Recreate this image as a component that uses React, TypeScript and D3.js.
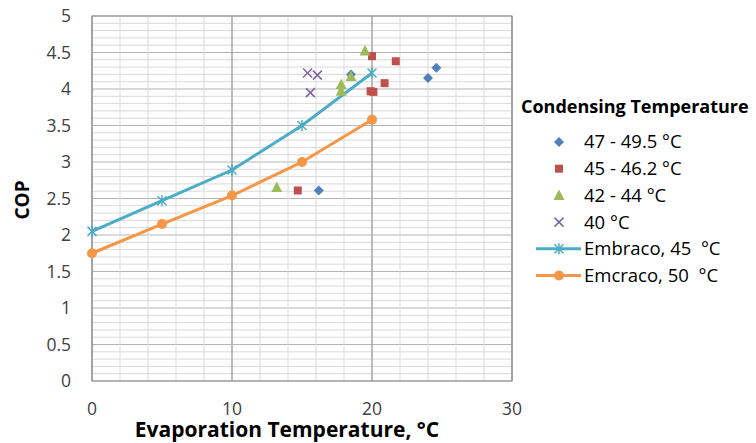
import React from "react";
import * as d3 from "d3";

const W = 756, H = 443;
const xTicks = [0, 10, 20, 30];
const yTicks = [0, 0.5, 1, 1.5, 2, 2.5, 3, 3.5, 4, 4.5, 5];

const s47x = [24.6, 24.0, 16.2, 18.5];
const s47y = [4.29, 4.15, 2.61, 4.2];
const s45x = [20.0, 21.7, 20.9, 19.9, 20.1, 14.7];
const s45y = [4.45, 4.38, 4.08, 3.97, 3.96, 2.61];
const s42x = [19.5, 18.5, 17.8, 17.8, 13.2];
const s42y = [4.52, 4.17, 4.06, 3.97, 2.65];
const s40x = [15.4, 16.1, 15.6];
const s40y = [4.22, 4.19, 3.95];
const lineX = [0, 5, 10, 15, 20];
const embracoY = [2.05, 2.47, 2.89, 3.5, 4.22];
const emcracoY = [1.75, 2.15, 2.54, 3.0, 3.58];

const legendLabels = ["47 - 49.5 °C", "45 - 46.2 °C", "42 - 44 °C", "40 °C", "Embraco, 45\u00a0 °C", "Emcraco, 50\u00a0 °C"];
const C = { blue: "#4F81BD", red: "#C0504D", green: "#9BBB59", purple: "#8064A2", teal: "#4BACC6", orange: "#F79646" };
const FONT = "'Open Sans', Lato, sans-serif";

const x = d3.scaleLinear().domain([0, 30]).range([92, 512]);
const y = d3.scaleLinear().domain([0, 5]).range([381, 16]);

function Marker({ type, cx, cy, color }: { type: string; cx: number; cy: number; color: string }) {
  if (type === "diamond") {
    const r = 5;
    return <path d={`M${cx},${cy - r}L${cx + r},${cy}L${cx},${cy + r}L${cx - r},${cy}Z`} fill={color} />;
  }
  if (type === "square") return <rect x={cx - 4} y={cy - 4} width={8} height={8} fill={color} />;
  if (type === "triangle") return <path d={`M${cx},${cy - 6}L${cx + 5.5},${cy + 4.5}L${cx - 5.5},${cy + 4.5}Z`} fill={color} />;
  if (type === "x") {
    const r = 4.5;
    return <path d={`M${cx - r},${cy - r}L${cx + r},${cy + r}M${cx - r},${cy + r}L${cx + r},${cy - r}`} stroke={color} strokeWidth={1.5} />;
  }
  if (type === "star") {
    const r = 4.5;
    return <path d={`M${cx - r},${cy - r}L${cx + r},${cy + r}M${cx - r},${cy + r}L${cx + r},${cy - r}M${cx},${cy - r - 1}L${cx},${cy + r + 1}`} stroke={color} strokeWidth={1.5} />;
  }
  return <circle cx={cx} cy={cy} r={5} fill={color} />;
}

export default function App() {
  const minorY = d3.range(0, 5.0001, 0.1);
  const minorX = d3.range(0, 30.0001, 2);
  const line = d3.line<number>().x((_, i) => x(lineX[i])).y((d) => y(d));
  const scatter = [
    { xs: s47x, ys: s47y, type: "diamond", color: C.blue },
    { xs: s45x, ys: s45y, type: "square", color: C.red },
    { xs: s42x, ys: s42y, type: "triangle", color: C.green },
    { xs: s40x, ys: s40y, type: "x", color: C.purple },
  ];
  return (
    <svg width={W} height={H} style={{ position: "absolute", left: 0, top: 0, background: "#fff" }} fontFamily={FONT}>
      <rect width={W} height={H} fill="#fff" />
      {minorY.map((v, i) => (
        <line key={"my" + i} x1={x(0)} x2={x(30)} y1={y(v)} y2={y(v)} stroke={i % 5 === 0 ? "#b3b3b3" : "#d9d9d9"} strokeWidth={1} />
      ))}
      {minorX.map((v, i) => (
        <line key={"mx" + i} x1={x(v)} x2={x(v)} y1={y(0)} y2={y(5)} stroke="#d9d9d9" strokeWidth={1} />
      ))}
      {xTicks.map((v) => (
        <line key={"Mx" + v} x1={x(v)} x2={x(v)} y1={y(0)} y2={y(5)} stroke="#8c8c8c" strokeWidth={1} />
      ))}
      <rect x={x(0)} y={y(5)} width={x(30) - x(0)} height={y(0) - y(5)} fill="none" stroke="#8c8c8c" />
      {yTicks.map((v) => (
        <text key={"yt" + v} x={71} y={y(v)} dy="0.35em" textAnchor="end" fontSize={17.5} fill="#404040">{v}</text>
      ))}
      {xTicks.map((v) => (
        <text key={"xt" + v} x={x(v)} y={409} dy="0.35em" textAnchor="middle" fontSize={17.5} fill="#404040">{v}</text>
      ))}
      <text x={287} y={437} textAnchor="middle" fontSize={21} fontWeight="bold" fill="#000">Evaporation Temperature, °C</text>
      <text transform={`translate(22,200) rotate(-90)`} dy="0.35em" textAnchor="middle" fontSize={19} fontWeight="bold" fill="#000">COP</text>

      <path d={line(embracoY) || ""} fill="none" stroke={C.teal} strokeWidth={3} />
      {embracoY.map((v, i) => <Marker key={"e1" + i} type="star" cx={x(lineX[i])} cy={y(v)} color={C.teal} />)}
      <path d={line(emcracoY) || ""} fill="none" stroke={C.orange} strokeWidth={3} />
      {emcracoY.map((v, i) => <Marker key={"e2" + i} type="circle" cx={x(lineX[i])} cy={y(v)} color={C.orange} />)}

      {scatter.map((s, si) => s.xs.map((xv, i) => (
        <Marker key={"s" + si + "-" + i} type={s.type} cx={x(xv)} cy={y(s.ys[i])} color={s.color} />
      )))}

      <text x={521} y={107} dy="0.35em" fontSize={18} fontWeight="bold" fill="#000">Condensing Temperature</text>
      {legendLabels.map((lab, i) => {
        const cy = 142 + i * 26.7;
        const types = ["diamond", "square", "triangle", "x", "star", "circle"];
        const cols = [C.blue, C.red, C.green, C.purple, C.teal, C.orange];
        return (
          <g key={"lg" + i}>
            {i >= 4 && <line x1={536} x2={581} y1={cy} y2={cy} stroke={cols[i]} strokeWidth={3} />}
            <Marker type={types[i]} cx={559} cy={cy} color={cols[i]} />
            <text x={584} y={cy} dy="0.35em" fontSize={18.5} fill="#000">{lab}</text>
          </g>
        );
      })}
    </svg>
  );
}
